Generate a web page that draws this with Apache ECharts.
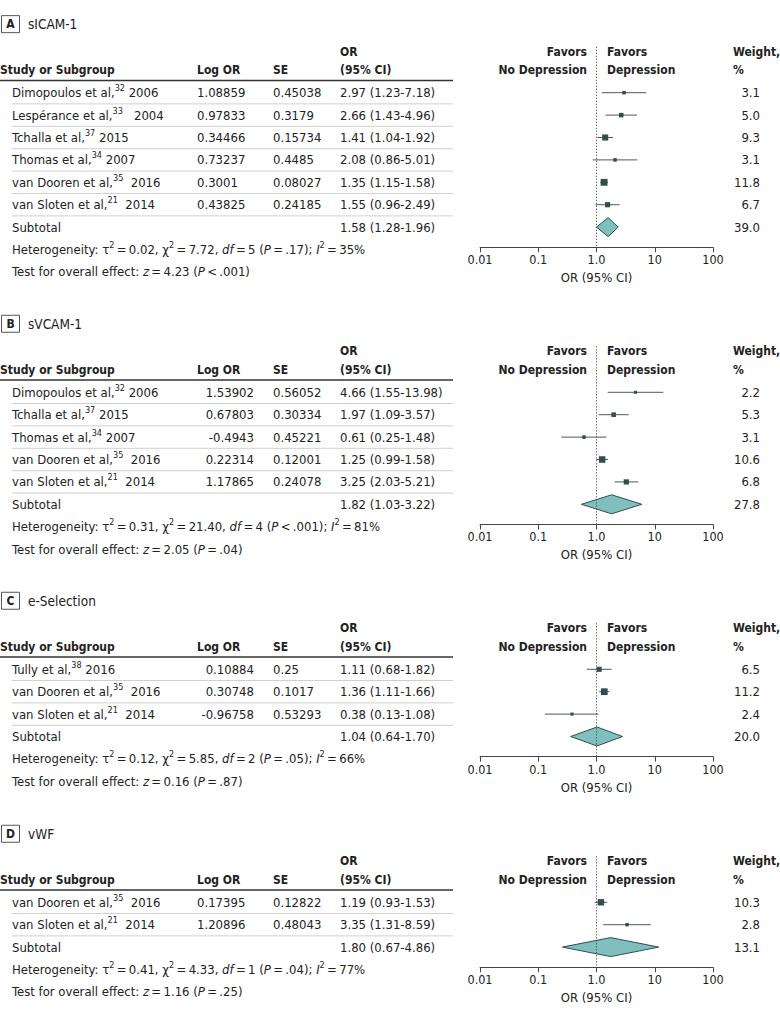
<!DOCTYPE html>
<html>
<head>
<meta charset="utf-8">
<script src="https://cdn.jsdelivr.net/npm/echarts@6/dist/echarts.min.js"></script>
<style>
  html, body { margin: 0; padding: 0; background: #fff; }
  #chart-container { width: 780px; height: 1018px; }
</style>
</head>
<body>
<div id="chart-container"></div>
<script>
// ---- data ----
var panelLetters = ["A", "B", "C", "D"];
var panelTitles = ["sICAM-1", "sVCAM-1", "e-Selection", "vWF"];

var namesA = ["Dimopoulos et al,", "Lespérance et al,", "Tchalla et al,", "Thomas et al,", "van Dooren et al,", "van Sloten et al,"];
var refsA = ["32", "33", "37", "34", "35", "21"];
var yearsA = [" 2006", "   2004", " 2015", " 2007", "  2016", "  2014"];
var logOrA = ["1.08859", "0.97833", "0.34466", "0.73237", "0.3001", "0.43825"];
var seA = ["0.45038", "0.3179", "0.15734", "0.4485", "0.08027", "0.24185"];
var orA = [2.97, 2.66, 1.41, 2.08, 1.35, 1.55];
var loA = [1.23, 1.43, 1.04, 0.86, 1.15, 0.96];
var hiA = [7.18, 4.96, 1.92, 5.01, 1.58, 2.49];
var weightA = ["3.1", "5.0", "9.3", "3.1", "11.8", "6.7"];

var namesB = ["Dimopoulos et al,", "Tchalla et al,", "Thomas et al,", "van Dooren et al,", "van Sloten et al,"];
var refsB = ["32", "37", "34", "35", "21"];
var yearsB = [" 2006", " 2015", " 2007", "  2016", "  2014"];
var logOrB = ["1.53902", "0.67803", "-0.4943", "0.22314", "1.17865"];
var seB = ["0.56052", "0.30334", "0.45221", "0.12001", "0.24078"];
var orB = [4.66, 1.97, 0.61, 1.25, 3.25];
var loB = [1.55, 1.09, 0.25, 0.99, 2.03];
var hiB = [13.98, 3.57, 1.48, 1.58, 5.21];
var weightB = ["2.2", "5.3", "3.1", "10.6", "6.8"];

var namesC = ["Tully et al,", "van Dooren et al,", "van Sloten et al,"];
var refsC = ["38", "35", "21"];
var yearsC = [" 2016", "  2016", "  2014"];
var logOrC = ["0.10884", "0.30748", "-0.96758"];
var seC = ["0.25", "0.1017", "0.53293"];
var orC = [1.11, 1.36, 0.38];
var loC = [0.68, 1.11, 0.13];
var hiC = [1.82, 1.66, 1.08];
var weightC = ["6.5", "11.2", "2.4"];

var namesD = ["van Dooren et al,", "van Sloten et al,"];
var refsD = ["35", "21"];
var yearsD = ["  2016", "  2014"];
var logOrD = ["0.17395", "1.20896"];
var seD = ["0.12822", "0.48043"];
var orD = [1.19, 3.35];
var loD = [0.93, 1.31];
var hiD = [1.53, 8.59];
var weightD = ["10.3", "2.8"];

// subtotals (text) and drawn diamonds
var subOr = ["1.58", "1.82", "1.04", "1.80"];
var subCi = ["1.28-1.96", "1.03-3.22", "0.64-1.70", "0.67-4.86"];
var subWeight = ["39.0", "27.8", "20.0", "13.1"];
var diamondLo = [1.0, 0.55, 0.36, 0.26];
var diamondMid = [1.58, 1.82, 1.02, 1.75];
var diamondHi = [2.36, 6.0, 2.8, 11.7];

var tau2 = ["0.02", "0.31", "0.12", "0.41"];
var chi2 = ["7.72", "21.40", "5.85", "4.33"];
var dfs = ["5", "4", "2", "1"];
var pHet = ["\u2009=\u2009.17", "\u2009<\u2009.001", "\u2009=\u2009.05", "\u2009=\u2009.04"];
var i2 = ["35%", "81%", "66%", "77%"];
var zVals = ["4.23", "2.05", "0.16", "1.16"];
var pZ = ["\u2009<\u2009.001", "\u2009=\u2009.04", "\u2009=\u2009.87", "\u2009=\u2009.25"];

var tickLabels = { "-2": "0.01", "-1": "0.1", "0": "1.0", "1": "10", "2": "100" };

// ---- layout ----
var ROW_H = 22.4;
var row0Y = [92.7, 392.3, 669.3, 902.3];
var logAlignRight = [false, true, true, false];
var FONT = "'DejaVu Sans Condensed', 'DejaVu Sans', sans-serif";
var INK = "#222";

function font(size, weight, style) {
  return (style || "normal") + " " + (weight || "normal") + " " + size + "px " + FONT;
}

var rich = {
  sup: { font: font(9), fill: INK, padding: [0, 0, 9, 0] },
  i: { font: font(13, "normal", "italic"), fill: INK }
};

var panels = [
  { names: namesA, refs: refsA, years: yearsA, logOr: logOrA, se: seA, or: orA, lo: loA, hi: hiA, weight: weightA },
  { names: namesB, refs: refsB, years: yearsB, logOr: logOrB, se: seB, or: orB, lo: loB, hi: hiB, weight: weightB },
  { names: namesC, refs: refsC, years: yearsC, logOr: logOrC, se: seC, or: orC, lo: loC, hi: hiC, weight: weightC },
  { names: namesD, refs: refsD, years: yearsD, logOr: logOrD, se: seD, or: orD, lo: loD, hi: hiD, weight: weightD }
];

function txt(x, y, text, opt) {
  opt = opt || {};
  var align = opt.align || "left";
  return {
    type: "text",
    x: x,
    y: y,
    style: {
      text: text,
      font: opt.font || font(13),
      fill: opt.fill || INK,
      textAlign: align,
      align: align,
      textVerticalAlign: "middle",
      verticalAlign: "middle",
      rich: rich
    }
  };
}

function hline(x1, x2, y, color, w) {
  return {
    type: "line",
    shape: { x1: x1, y1: y, x2: x2, y2: y },
    style: { stroke: color, lineWidth: w }
  };
}

function tableRenderer(k) {
  var p = panels[k];
  var n = p.names.length;
  return function (params, api) {
    function yOf(row) {
      return api.coord([1, row])[1];
    }
    var hb = font(12, "bold");
    var ch = [];
    // panel letter and title
    var ty = yOf(-3.06);
    ch.push({
      type: "rect",
      shape: { x: 1.5, y: ty - 8.5, width: 18, height: 17 },
      style: { fill: "#fff", stroke: "#555", lineWidth: 1 }
    });
    ch.push(txt(10.5, ty, panelLetters[k], { font: font(12, "bold"), align: "center" }));
    ch.push(txt(28, ty, panelTitles[k], { font: font(13.5) }));
    // headers
    var h1 = yOf(-1.83), h2 = yOf(-1.01);
    ch.push(txt(340, h1, "OR", { font: hb }));
    ch.push(txt(0, h2, "Study or Subgroup", { font: hb }));
    ch.push(txt(197, h2, "Log OR", { font: hb }));
    ch.push(txt(273, h2, "SE", { font: hb }));
    ch.push(txt(340, h2, "(95% CI)", { font: hb }));
    ch.push(txt(587, h1, "Favors", { font: hb, align: "right" }));
    ch.push(txt(587, h2, "No Depression", { font: hb, align: "right" }));
    ch.push(txt(607, h1, "Favors", { font: hb }));
    ch.push(txt(607, h2, "Depression", { font: hb }));
    ch.push(txt(733, h1, "Weight,", { font: hb }));
    ch.push(txt(733, h2, "%", { font: hb }));
    ch.push(hline(0, 453, yOf(-0.55), "#333", 1.5));
    // study rows
    for (var i = 0; i < n; i++) {
      var y = yOf(i);
      ch.push(txt(12, y, p.names[i] + "{sup|" + p.refs[i] + "}" + p.years[i]));
      if (logAlignRight[k]) {
        ch.push(txt(254, y, p.logOr[i], { align: "right" }));
      } else {
        ch.push(txt(197, y, p.logOr[i]));
      }
      ch.push(txt(273, y, p.se[i]));
      ch.push(txt(340, y, p.or[i].toFixed(2) + " (" + p.lo[i].toFixed(2) + "-" + p.hi[i].toFixed(2) + ")"));
      ch.push(txt(760, y, p.weight[i], { align: "right" }));
      ch.push(hline(12, 453, yOf(i + 0.5), "#d0d0d0", 1));
    }
    // subtotal + footnotes
    var ys = yOf(n);
    ch.push(txt(12, ys, "Subtotal"));
    ch.push(txt(340, ys, subOr[k] + " (" + subCi[k] + ")"));
    ch.push(txt(760, ys, subWeight[k], { align: "right" }));
    ch.push(txt(12, yOf(n + 1),
      "Heterogeneity: \u03c4{sup|2}\u2009=\u2009" + tau2[k] +
      ", \u03c7{sup|2}\u2009=\u2009" + chi2[k] +
      ", {i|df}\u2009=\u2009" + dfs[k] +
      " ({i|P}" + pHet[k] + "); {i|I}{sup|2}\u2009=\u2009" + i2[k]));
    ch.push(txt(12, yOf(n + 2),
      "Test for overall effect: {i|z}\u2009=\u2009" + zVals[k] + " ({i|P}" + pZ[k] + ")"));
    return { type: "group", children: ch };
  };
}

function renderStudy(params, api) {
  var row = api.value(1);
  var y = api.coord([1, row])[1];
  var c = api.coord([api.value(0), row])[0];
  var l = api.coord([api.value(2), row])[0];
  var h = api.coord([api.value(3), row])[0];
  var s = 2 * Math.sqrt(api.value(4));
  return {
    type: "group",
    children: [
      { type: "line", shape: { x1: l, y1: y, x2: h, y2: y }, style: { stroke: "#555", lineWidth: 1 } },
      { type: "rect", shape: { x: c - s / 2, y: y - s / 2, width: s, height: s }, style: { fill: "#2f4f4f" } }
    ]
  };
}

function renderDiamond(params, api) {
  var row = api.value(1);
  var y = api.coord([1, row])[1];
  var c = api.coord([api.value(0), row])[0];
  var l = api.coord([api.value(2), row])[0];
  var h = api.coord([api.value(3), row])[0];
  return {
    type: "polygon",
    shape: { points: [[l, y], [c, y - 9.5], [h, y], [c, y + 9.5]] },
    style: { fill: "#7fc0bf", stroke: "#2f4f4f", lineWidth: 1 }
  };
}

var grids = [], xAxes = [], yAxes = [], series = [];

panels.forEach(function (p, k) {
  var n = p.names.length;
  var yMin = -2.05, yMax = n + 0.9;
  grids.push({
    left: 480,
    width: 233,
    top: row0Y[k] + yMin * ROW_H,
    height: (yMax - yMin) * ROW_H
  });
  xAxes.push({
    gridIndex: k,
    type: "log",
    logBase: 10,
    min: 0.01,
    max: 100,
    splitLine: { show: false },
    axisLine: { onZero: false, lineStyle: { color: "#444", width: 1 } },
    axisTick: { length: 5, lineStyle: { color: "#444" } },
    axisLabel: {
      margin: 6,
      color: INK,
      fontSize: 12.5,
      fontFamily: FONT,
      formatter: function (v) {
        return tickLabels[String(Math.round(Math.log10(v)))] || "";
      }
    },
    name: "OR (95% CI)",
    nameLocation: "middle",
    nameGap: 24,
    nameTextStyle: { color: INK, fontSize: 13, fontFamily: FONT }
  });
  yAxes.push({
    gridIndex: k,
    type: "value",
    inverse: true,
    min: yMin,
    max: yMax,
    show: false
  });

  series.push({
    type: "custom",
    name: "studies" + k,
    xAxisIndex: k,
    yAxisIndex: k,
    clip: false,
    encode: { x: 0, y: 1 },
    data: p.or.map(function (v, i) {
      return [v, i, p.lo[i], p.hi[i], parseFloat(p.weight[i])];
    }),
    renderItem: renderStudy,
    markLine: {
      silent: true,
      symbol: "none",
      label: { show: false },
      lineStyle: { color: "#333", type: [1, 2], width: 1 },
      data: [{ xAxis: 1 }]
    }
  });
  series.push({
    type: "custom",
    name: "subtotal" + k,
    xAxisIndex: k,
    yAxisIndex: k,
    clip: false,
    encode: { x: 0, y: 1 },
    data: [[diamondMid[k], n, diamondLo[k], diamondHi[k]]],
    renderItem: renderDiamond
  });
  series.push({
    type: "custom",
    name: "table" + k,
    xAxisIndex: k,
    yAxisIndex: k,
    clip: false,
    encode: { x: 0, y: 1 },
    data: [[1, 0]],
    renderItem: tableRenderer(k)
  });
});

var chartDom = document.getElementById("chart-container");
var myChart = echarts.init(chartDom, null, { renderer: "svg" });

var option = {
  animation: false,
  backgroundColor: "#fff",
  grid: grids,
  xAxis: xAxes,
  yAxis: yAxes,
  series: series
};

myChart.setOption(option);
window.addEventListener("resize", myChart.resize);
</script>
</body>
</html>
